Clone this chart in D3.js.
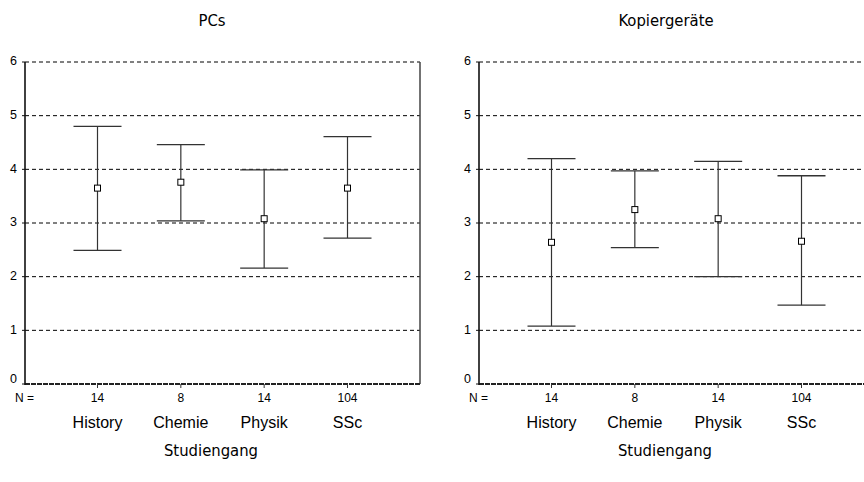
<!DOCTYPE html>
<html>
<head>
<meta charset="utf-8">
<script src="https://cdn.jsdelivr.net/npm/d3@7"></script>
<style>
  html, body { margin: 0; padding: 0; background: #fff; }
  svg { display: block; }
</style>
</head>
<body>
<svg id="chart" width="864" height="482"></svg>
<script>
// Study programmes and group sizes
const categories = ["History", "Chemie", "Physik", "SSc"];
const counts = [14, 8, 14, 104];
const yTicks = [0, 1, 2, 3, 4, 5, 6];

// PCs: mean with lower / upper interval bounds
const pcsMean  = [3.65, 3.76, 3.08, 3.65];
const pcsLower = [2.49, 3.04, 2.16, 2.72];
const pcsUpper = [4.80, 4.46, 3.99, 4.61];

// Kopiergeräte: mean with lower / upper interval bounds
const kopMean  = [2.64, 3.25, 3.08, 2.66];
const kopLower = [1.08, 2.54, 2.00, 1.47];
const kopUpper = [4.20, 3.97, 4.15, 3.88];

const panels = [
  { title: "PCs", mean: pcsMean, lower: pcsLower, upper: pcsUpper, left: 25 },
  { title: "Kopiergeräte", mean: kopMean, lower: kopLower, upper: kopUpper, left: 479 }
];

const svg = d3.select("#chart");
const plotW = 395, plotTop = 62, plotBottom = 384;
const titleFont = "'DejaVu Sans Condensed', 'DejaVu Sans', sans-serif";
const labelFont = "'Liberation Sans', Arial, sans-serif";

const y = d3.scaleLinear().domain([0, 6]).range([plotBottom, plotTop]);

panels.forEach(p => {
  const g = svg.append("g");
  const x = d3.scalePoint().domain(categories)
    .range([p.left, p.left + plotW]).padding(0.87);
  const rows = categories.map((c, i) => ({ c, n: counts[i], m: p.mean[i], lo: p.lower[i], hi: p.upper[i] }));

  // horizontal dashed reference lines
  g.selectAll("line.grid").data(yTicks.filter(t => t > 0)).join("line")
    .attr("x1", p.left).attr("x2", p.left + plotW)
    .attr("y1", d => y(d)).attr("y2", d => y(d))
    .attr("stroke", "#000").attr("stroke-width", 1)
    .attr("stroke-dasharray", "4,3");

  // frame: right border, left axis, bottom axis
  g.append("line").attr("x1", p.left + plotW).attr("x2", p.left + plotW)
    .attr("y1", y(6)).attr("y2", y(0)).attr("stroke", "#444").attr("stroke-width", 1.5);
  g.append("line").attr("x1", p.left).attr("x2", p.left + plotW)
    .attr("y1", y(0)).attr("y2", y(0))
    .attr("stroke", "#222").attr("stroke-width", 2).attr("stroke-dasharray", "5,1");
  g.append("line").attr("x1", p.left).attr("x2", p.left)
    .attr("y1", y(6)).attr("y2", y(0) + 1).attr("stroke", "#111").attr("stroke-width", 1.6);

  // y ticks and labels
  g.selectAll("line.ytick").data(yTicks).join("line")
    .attr("x1", p.left - 3).attr("x2", p.left)
    .attr("y1", d => y(d)).attr("y2", d => y(d))
    .attr("stroke", "#111").attr("stroke-width", 1);
  g.selectAll("text.ylab").data(yTicks).join("text")
    .attr("x", p.left - 8).attr("y", d => y(d) - (d === 0 ? 5 : 1))
    .attr("dy", "0.35em").attr("text-anchor", "end")
    .attr("font-family", labelFont).attr("font-size", 12.5).attr("fill", "#000")
    .text(d => d);

  // x ticks
  g.selectAll("line.xtick").data(rows).join("line")
    .attr("x1", d => x(d.c)).attr("x2", d => x(d.c))
    .attr("y1", y(0)).attr("y2", y(0) + 4)
    .attr("stroke", "#333").attr("stroke-width", 1);

  // group sizes
  g.append("text").attr("x", p.left - 10).attr("y", 402)
    .attr("font-family", labelFont).attr("font-size", 12).attr("fill", "#000")
    .text("N =");
  g.selectAll("text.n").data(rows).join("text")
    .attr("x", d => x(d.c)).attr("y", 402).attr("text-anchor", "middle")
    .attr("font-family", labelFont).attr("font-size", 12).attr("fill", "#000")
    .text(d => d.n);

  // category labels
  g.selectAll("text.cat").data(rows).join("text")
    .attr("x", d => x(d.c)).attr("y", 428).attr("text-anchor", "middle")
    .attr("font-family", labelFont).attr("font-size", 16).attr("fill", "#000")
    .text(d => d.c);

  // error bars
  const bars = g.selectAll("g.bar").data(rows).join("g");
  bars.append("line")
    .attr("x1", d => x(d.c)).attr("x2", d => x(d.c))
    .attr("y1", d => y(d.hi)).attr("y2", d => y(d.lo))
    .attr("stroke", "#333").attr("stroke-width", 1.2);
  bars.selectAll("line.cap").data(d => [d.hi, d.lo].map(v => ({ c: d.c, v }))).join("line")
    .attr("x1", d => x(d.c) - 24).attr("x2", d => x(d.c) + 24)
    .attr("y1", d => y(d.v)).attr("y2", d => y(d.v))
    .attr("stroke", "#333").attr("stroke-width", 1.3);
  bars.append("rect")
    .attr("x", d => x(d.c) - 3).attr("y", d => y(d.m) - 3)
    .attr("width", 6).attr("height", 6)
    .attr("fill", "#fff").attr("stroke", "#000").attr("stroke-width", 1);

  // titles
  g.append("text").attr("x", p.left + 187).attr("y", 26).attr("text-anchor", "middle")
    .attr("font-family", titleFont).attr("font-size", 16.5).attr("fill", "#000")
    .text(p.title);
  g.append("text").attr("x", p.left + 186).attr("y", 456).attr("text-anchor", "middle")
    .attr("font-family", titleFont).attr("font-size", 16.5).attr("fill", "#000")
    .text("Studiengang");
});
</script>
</body>
</html>
